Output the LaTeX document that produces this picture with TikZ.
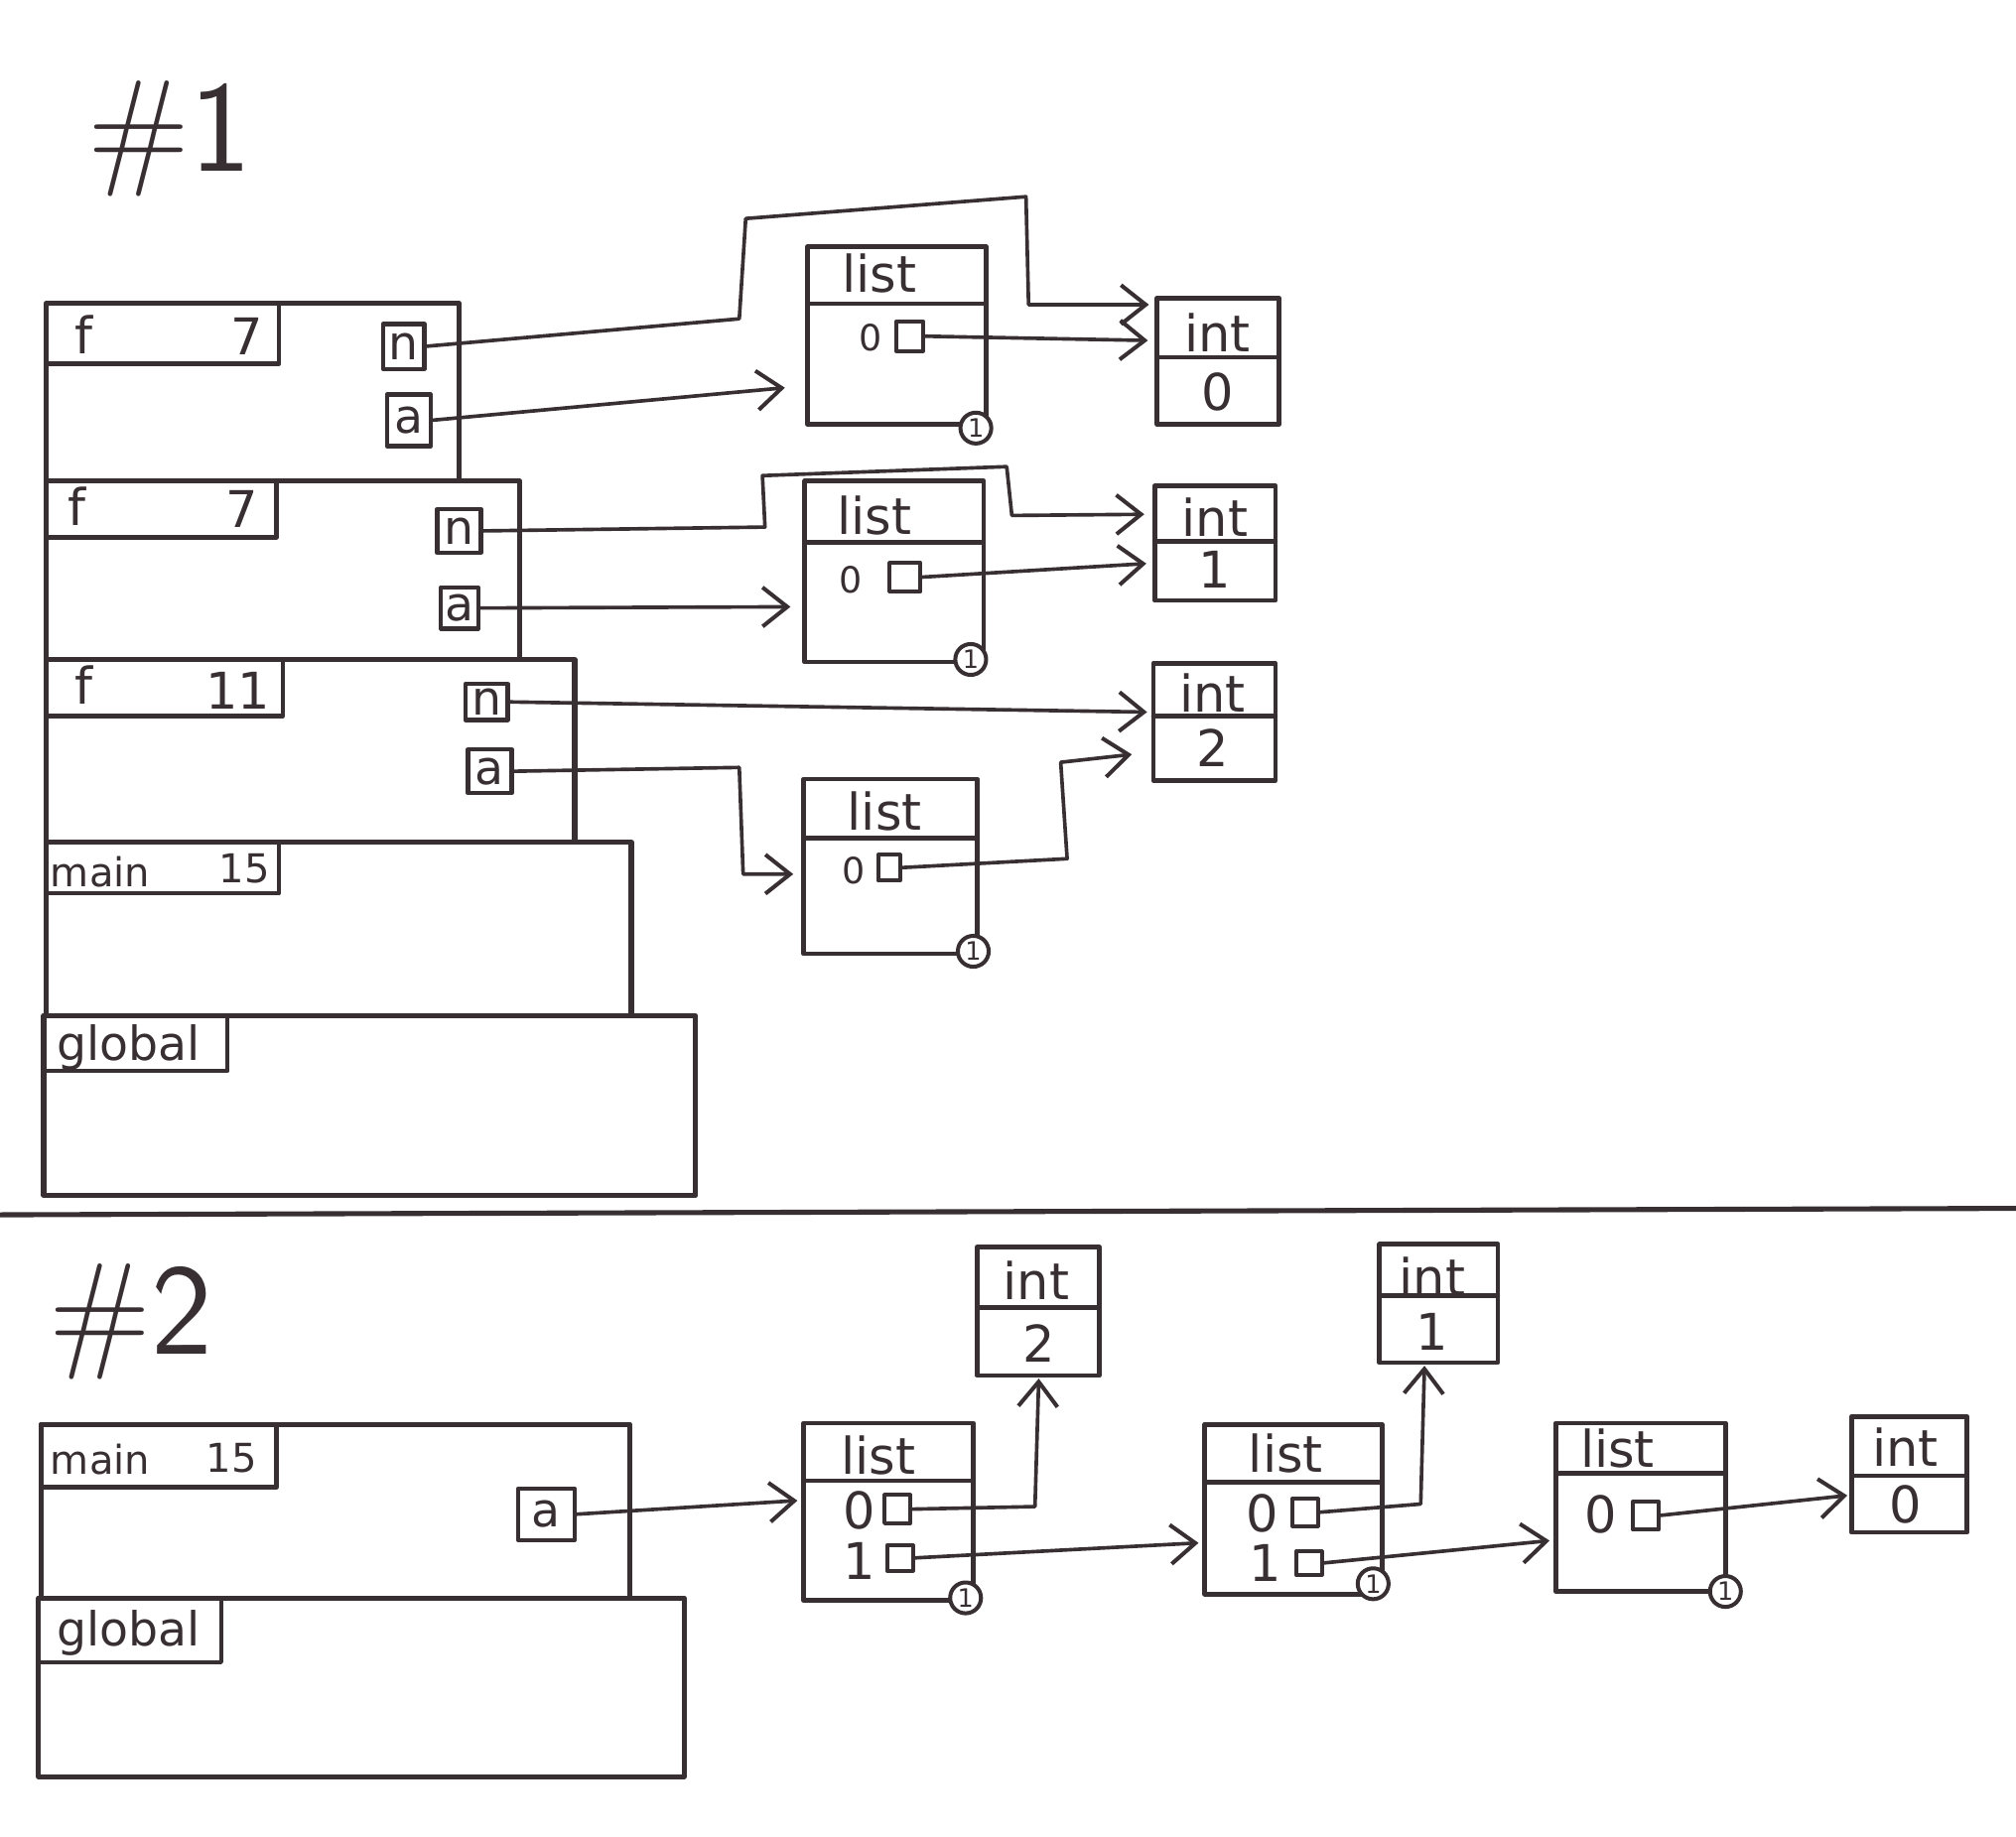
\documentclass[tikz,border=0pt]{standalone}
\usepackage{fontspec}
\setmainfont{DejaVu Sans}
\usetikzlibrary{arrows.meta,calc,fit}
\definecolor{ink}{RGB}{56,47,50}
\begin{document}
\begin{tikzpicture}[x=0.0125cm,y=-0.0125cm,line join=round,line cap=round,
  pen/.style={draw=ink,line width=1.2pt},
  frame/.style={draw=ink,line width=1.4pt,inner sep=0pt,outer sep=0pt},
  tag/.style={draw=ink,line width=1.2pt,inner sep=0pt,outer sep=0pt},
  obj/.style={draw=ink,line width=1.3pt,inner sep=0pt,outer sep=0pt},
  var/.style={draw=ink,line width=1.2pt,inner sep=0pt,outer sep=0pt},
  cell/.style={draw=ink,line width=1.1pt,inner sep=0pt,outer sep=0pt},
  txt/.style={text=ink,inner sep=0pt,font=\fontsize{14}{15}\selectfont},
  vname/.style={text=ink,inner sep=0pt,font=\fontsize{13}{14}\selectfont},
  idx/.style={text=ink,inner sep=0pt,font=\fontsize{10}{11}\selectfont},
  small/.style={text=ink,inner sep=0pt,font=\fontsize{11}{12}\selectfont},
  title/.style={text=ink,inner sep=0pt,font=\sffamily\fontsize{36}{38}\selectfont},
  rc/.style={circle,draw=ink,line width=1.1pt,fill=white,inner sep=0pt,
    minimum size=0.3cm,text=ink,font=\fontsize{7}{8}\selectfont},
  ptr/.style={draw=ink,line width=1pt,
    -{Straight Barb[length=2.4mm,width=3.8mm,line width=1.1pt]}},
]
\useasboundingbox (0,0) rectangle (1568,1429);

% ---------------- part 1 ----------------
\node[title] (t1) at (132,108) {\#1};

% call stack
\node[frame,fit={(36,236)(357,374)}] (F1) {};
\node[tag,fit={(36,236)(217,283)}] (F1L) {};
\node[txt] (F1a) at (65,260) {f};
\node[txt] (F1b) at (192,262) {7};
\node[var,fit={(298,252)(330,287)},label={[vname]center:n}] (f1n) {};
\node[var,fit={(301,307)(335,347)},label={[vname]center:a}] (f1a) {};

\node[frame,fit={(36,374)(404,513)}] (F2) {};
\node[tag,fit={(36,374)(215,418)}] (F2L) {};
\node[txt] (F2a) at (60,394) {f};
\node[txt] (F2b) at (188,396) {7};
\node[var,fit={(340,396)(374,430)},label={[vname]center:n}] (f2n) {};
\node[var,fit={(343,457)(372,489)},label={[vname]center:a}] (f2a) {};

\node[frame,fit={(36,513)(447,655)}] (F3) {};
\node[tag,fit={(36,513)(220,557)}] (F3L) {};
\node[txt] (F3a) at (65,533) {f};
\node[txt] (F3b) at (185,537) {11};
\node[var,fit={(362,532)(395,560)},label={[vname]center:n}] (f3n) {};
\node[var,fit={(364,583)(398,617)},label={[vname]center:a}] (f3a) {};

\node[frame,fit={(36,655)(491,790)}] (FM) {};
\node[tag,fit={(36,655)(217,695)}] (FML) {};
\node[small] (FMa) at (78,678) {main};
\node[small] (FMb) at (190,676) {15};

\node[frame,fit={(34,790)(541,930)}] (FG) {};
\node[tag,fit={(34,790)(177,833)}] (FGL) {};
\node[small,font=\fontsize{13}{14}\selectfont] (FGa) at (100,815) {global};

% heap objects
\node[obj,fit={(628,192)(767,330)}] (LA) {};
\draw[pen] (628,236) -- (767,236);
\node[txt] (LAt) at (684,213) {list};
\node[idx] (LAi) at (677,263) {0};
\node[cell,fit={(697,250)(718,273)}] (LA0) {};
\node[rc] (LArc) at (759,333) {1};

\node[obj,fit={(900,232)(995,330)}] (I0) {};
\draw[pen] (900,278) -- (995,278);
\node[txt] (I0t) at (947,259) {int};
\node[txt] (I0v) at (947,305) {0};

\node[obj,fit={(626,374)(765,515)}] (LB) {};
\draw[pen] (626,422) -- (765,422);
\node[txt] (LBt) at (680,401) {list};
\node[idx] (LBi) at (662,451) {0};
\node[cell,fit={(692,438)(716,460)}] (LB0) {};
\node[rc] (LBrc) at (755,513) {1};

\node[obj,fit={(898,378)(992,467)}] (I1) {};
\draw[pen] (898,421) -- (992,421);
\node[txt] (I1t) at (945,402) {int};
\node[txt] (I1v) at (945,443) {1};

\node[obj,fit={(897,516)(992,607)}] (I2) {};
\draw[pen] (897,557) -- (992,557);
\node[txt] (I2t) at (943,539) {int};
\node[txt] (I2v) at (943,582) {2};

\node[obj,fit={(625,606)(760,742)}] (LC) {};
\draw[pen] (625,652) -- (760,652);
\node[txt] (LCt) at (688,631) {list};
\node[idx] (LCi) at (664,677) {0};
\node[cell,fit={(683,665)(700,685)}] (LC0) {};
\node[rc] (LCrc) at (757,740) {1};

% references
\draw[ptr,shorten >=0.8mm] (f1n.east) -- (575,248) -- (580,170) -- (798,153)
  -- (800,237) -- (I0.west |- 800,237);
\draw[ptr,shorten >=2.2mm] (f1a.east) -- (LA.west |- 0,300);
\draw[ptr,shorten >=0.9mm] (LA0.east) -- (I0.west |- 0,265);

\draw[ptr,shorten >=1mm] (f2n.east) -- (595,410) -- (593,370) -- (783,363)
  -- (787,401) -- (I1.west |- 0,400);
\draw[ptr,shorten >=1.4mm] (f2a.east) -- (LB.west |- 0,472);
\draw[ptr,shorten >=0.8mm] (LB0.east) -- (I1.west |- 0,438);

\draw[ptr,shorten >=0.6mm] (f3n.east) -- (I2.west |- 0,554);
\draw[ptr,shorten >=1mm] (f3a.east) -- (575,597) -- (578,680) -- (LC.west |- 0,680);
\draw[ptr,shorten >=2.1mm] (LC0.east) -- (830,668) -- (825,593) -- (I2.west |- 0,585);

% divider between the two parts
\draw[draw=ink,line width=1.4pt] (0,945) -- (1568,940);

% ---------------- part 2 ----------------
\node[title] (t2) at (102,1028) {\#2};

\node[frame,fit={(32,1108)(490,1243)}] (M2) {};
\node[tag,fit={(32,1108)(215,1157)}] (M2L) {};
\node[small] (M2a) at (78,1135) {main};
\node[small] (M2b) at (180,1134) {15};
\node[var,fit={(403,1158)(447,1198)},label={[vname]center:a}] (m2a) {};

\node[frame,fit={(30,1243)(532,1382)}] (G2) {};
\node[tag,fit={(30,1243)(172,1293)}] (G2L) {};
\node[small,font=\fontsize{13}{14}\selectfont] (G2a) at (100,1270) {global};

\node[obj,fit={(760,970)(855,1070)}] (J2) {};
\draw[pen] (760,1017) -- (855,1017);
\node[txt] (J2t) at (806,996) {int};
\node[txt] (J2v) at (808,1045) {2};

\node[obj,fit={(1073,968)(1165,1060)}] (J1) {};
\draw[pen] (1073,1008) -- (1165,1008);
\node[txt] (J1t) at (1114,993) {int};
\node[txt] (J1v) at (1114,1036) {1};

\node[obj,fit={(625,1107)(757,1245)}] (LP) {};
\draw[pen] (625,1152) -- (757,1152);
\node[txt] (LPt) at (683,1132) {list};
\node[txt] (LPi) at (668,1175) {0};
\node[cell,fit={(688,1163)(708,1185)}] (LP0) {};
\node[txt] (LPj) at (668,1214) {1};
\node[cell,fit={(690,1202)(710,1222)}] (LP1) {};
\node[rc] (LPrc) at (751,1243) {1};

\node[obj,fit={(937,1108)(1075,1240)}] (LQ) {};
\draw[pen] (937,1153) -- (1075,1153);
\node[txt] (LQt) at (1000,1131) {list};
\node[txt] (LQi) at (982,1177) {0};
\node[cell,fit={(1005,1166)(1025,1187)}] (LQ0) {};
\node[txt] (LQj) at (984,1216) {1};
\node[cell,fit={(1008,1207)(1028,1225)}] (LQ1) {};
\node[rc] (LQrc) at (1068,1232) {1};

\node[obj,fit={(1210,1107)(1342,1238)}] (LR) {};
\draw[pen] (1210,1146) -- (1342,1146);
\node[txt] (LRt) at (1258,1127) {list};
\node[txt] (LRi) at (1245,1178) {0};
\node[cell,fit={(1270,1168)(1290,1190)}] (LR0) {};
\node[rc] (LRrc) at (1342,1238) {1};

\node[obj,fit={(1440,1102)(1530,1192)}] (J0) {};
\draw[pen] (1440,1148) -- (1530,1148);
\node[txt] (J0t) at (1482,1126) {int};
\node[txt] (J0v) at (1482,1170) {0};

\draw[ptr,shorten >=0.6mm] (m2a.east) -- (LP.west |- 0,1167);
\draw[ptr,shorten >=0.3mm] (LP0.east) -- (805,1172) -- (J2.south -| 808,0);
\draw[ptr,shorten >=0.6mm] (LP1.east) -- (LQ.west |- 0,1200);
\draw[ptr,shorten >=0.3mm] (LQ0.east) -- (1105,1170) -- (J1.south -| 1108,0);
\draw[ptr,shorten >=0.6mm] (LQ1.east) -- (LR.west |- 0,1198);
\draw[ptr,shorten >=0.4mm] (LR0.east) -- (J0.west |- 0,1163);
\end{tikzpicture}
\end{document}
